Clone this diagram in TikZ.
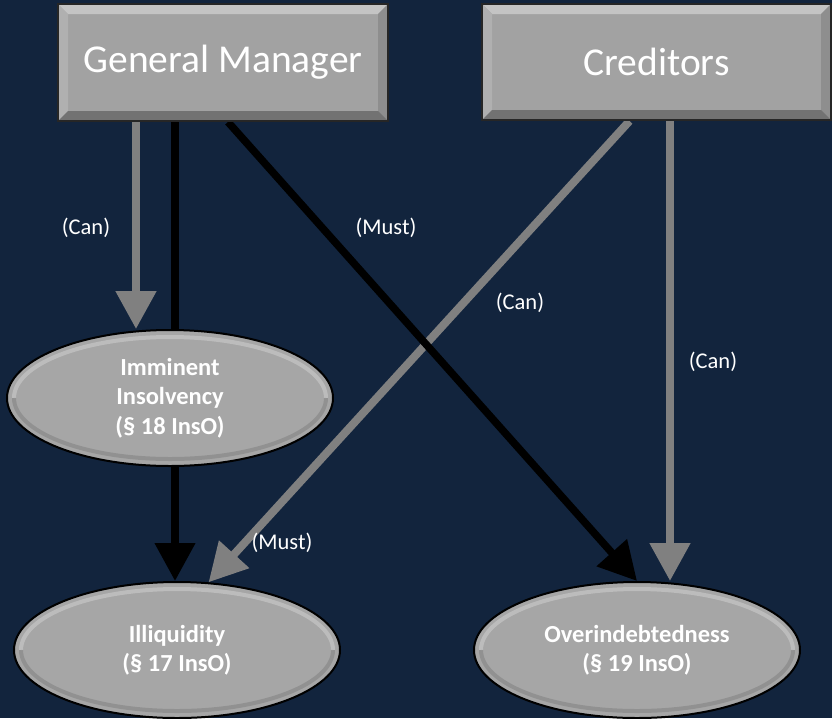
\documentclass[tikz,border=0pt]{standalone}
\usepackage{fontspec}
\setmainfont{Carlito}
\usepackage{tikz}
\usetikzlibrary{arrows.meta,shapes.geometric,calc}

\definecolor{navy}{HTML}{12243D}
\definecolor{boxgray}{HTML}{A2A2A2}
\definecolor{bevellight}{HTML}{C4C4C4}
\definecolor{bevelside}{HTML}{B0B0B0}
\definecolor{bevelright}{HTML}{8E8E8E}
\definecolor{beveldark}{HTML}{727272}
\definecolor{ellgray}{HTML}{A6A6A6}
\definecolor{arrowgray}{HTML}{808080}

\pgfdeclarelayer{background}
\pgfdeclarelayer{lines}
\pgfsetlayers{background,lines,main}

\tikzset{
  party/.style={rectangle, fill=boxgray, draw=black!85, line width=2pt,
    text=white, font=\fontsize{39.5}{46}\selectfont, inner sep=0pt,
    path picture={
      \fill[bevellight] (path picture bounding box.north west) -- (path picture bounding box.north east)
        -- ([shift={(-10pt,-10pt)}]path picture bounding box.north east)
        -- ([shift={(10pt,-10pt)}]path picture bounding box.north west) -- cycle;
      \fill[bevelside] (path picture bounding box.north west) -- ([shift={(10pt,-10pt)}]path picture bounding box.north west)
        -- ([shift={(10pt,10pt)}]path picture bounding box.south west) -- (path picture bounding box.south west) -- cycle;
      \fill[bevelright] (path picture bounding box.north east) -- ([shift={(-10pt,-10pt)}]path picture bounding box.north east)
        -- ([shift={(-10pt,10pt)}]path picture bounding box.south east) -- (path picture bounding box.south east) -- cycle;
      \fill[beveldark] (path picture bounding box.south west) -- ([shift={(10pt,10pt)}]path picture bounding box.south west)
        -- ([shift={(-10pt,10pt)}]path picture bounding box.south east) -- (path picture bounding box.south east) -- cycle;
    }},
  state/.style={ellipse, fill=ellgray, draw=black, line width=2pt, text=white,
    font=\bfseries\fontsize{24.5}{29.5}\selectfont, align=center, inner sep=0pt,
    minimum width=326pt, minimum height=136pt,
    path picture={
      \draw[line width=4pt, white, opacity=.25] ($(path picture bounding box.center)+(-156pt,0pt)$)
        arc[start angle=180, end angle=0, x radius=156pt, y radius=61pt];
      \draw[line width=4pt, black, opacity=.12] ($(path picture bounding box.center)+(156pt,0pt)$)
        arc[start angle=0, end angle=-180, x radius=156pt, y radius=61pt];
    }},
  can/.style={draw=arrowgray, line width=8pt, -{Triangle[width=39pt,length=38pt]}},
  must/.style={draw=black, line width=7.5pt, -{Triangle[width=39pt,length=38pt]}},
  note/.style={text=white, font=\fontsize{22.5}{27}\selectfont, inner sep=0pt}
}

\begin{document}
\begin{tikzpicture}[x=1pt, y=-1pt]
  \begin{pgfonlayer}{background}
    \fill[navy] (0,0) rectangle (832,718);
  \end{pgfonlayer}
  \useasboundingbox (0,0) rectangle (832,718);

  % who may or must file
  \node[party, minimum width=330pt, minimum height=117pt] (gm) at (223,62.5) {General Manager};
  \node[party, minimum width=349pt, minimum height=116pt] (cred) at (656.5,62) {Creditors};

  % grounds
  \node[state] (imm) at (170,398) {Imminent\\Insolvency\\(§ 18 InsO)};
  \node[state] (ill) at (177,650) {Illiquidity\\(§ 17 InsO)};
  \node[state] (over) at (637,650) {Overindebtedness\\(§ 19 InsO)};

  \begin{pgfonlayer}{lines}
    \draw[can] ([xshift=-87pt]gm.south) -- ([xshift=-87pt]gm.south |- imm.north);
    \draw[must] ([xshift=-48pt]gm.south) -- ([xshift=-48pt]gm.south |- ill.north);
    \draw[can] ([xshift=-27pt]cred.south) -- (ill.65);
    \draw[must] ([xshift=5pt]gm.south) -- (over.north);
    \draw[can] ([xshift=13.5pt]cred.south) -- ([xshift=13.5pt]cred.south |- over.north);
  \end{pgfonlayer}

  % labels
  \node[note] (canA) at (86,228) {(Can)};
  \node[note] (mustA) at (386,228) {(Must)};
  \node[note] (canB) at (520,303) {(Can)};
  \node[note] (canC) at (713,362) {(Can)};
  \node[note] (mustB) at (282,543) {(Must)};
\end{tikzpicture}
\end{document}
